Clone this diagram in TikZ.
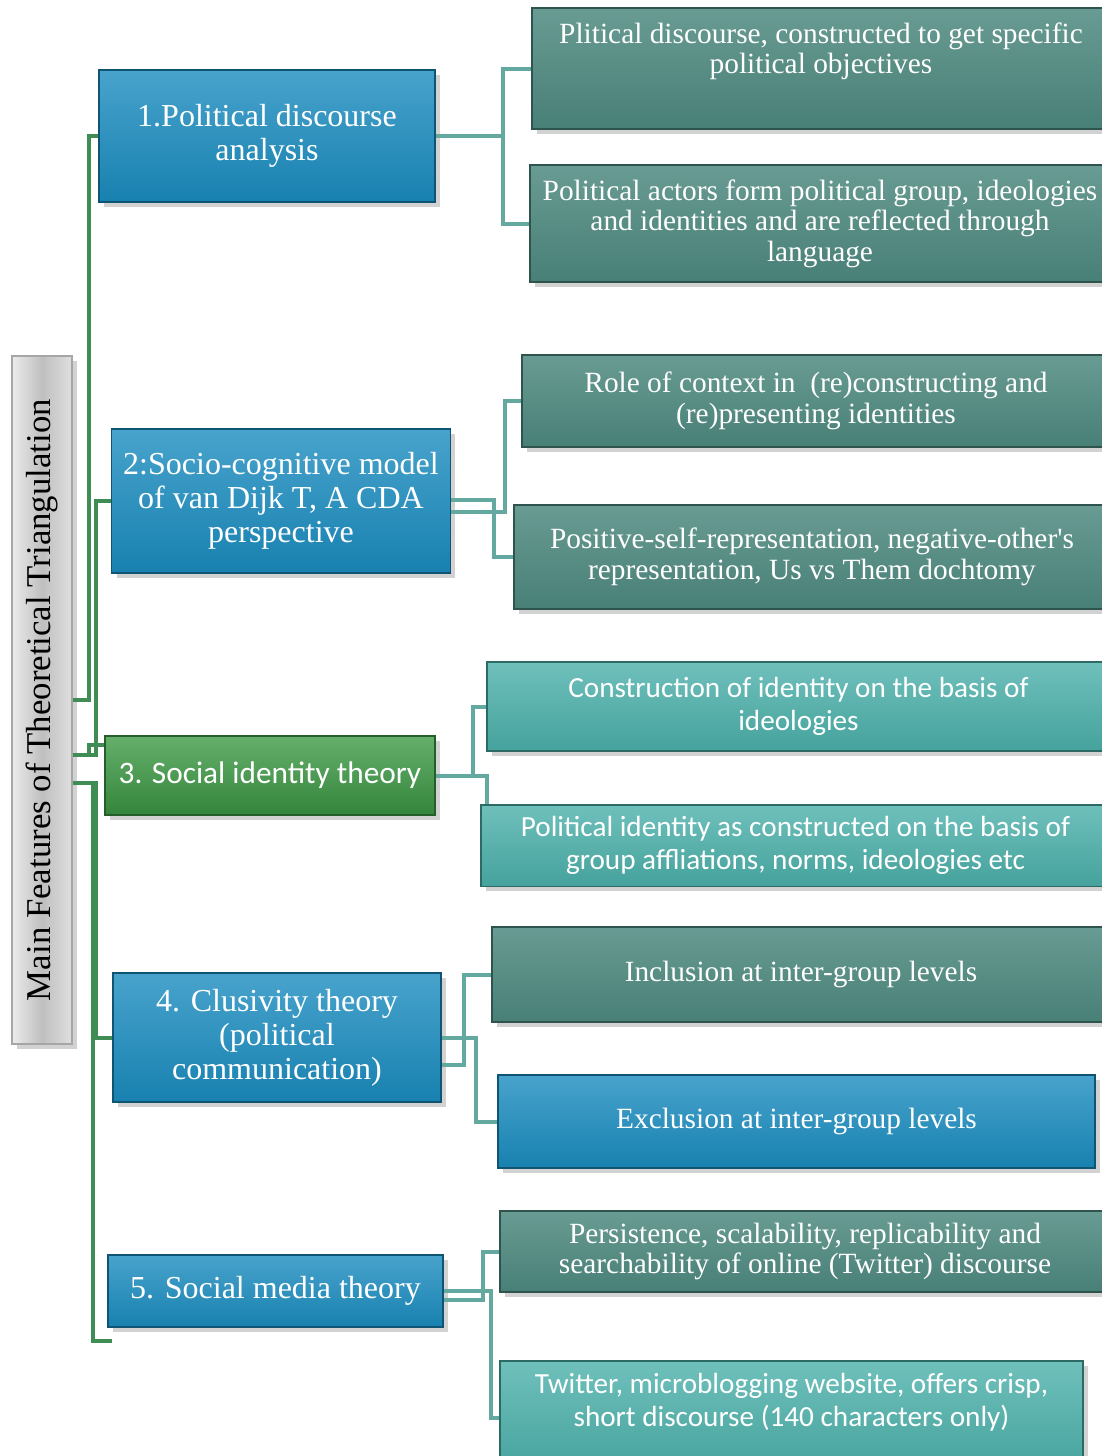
\documentclass[tikz,border=0pt]{standalone}
\usepackage{fontspec}
\setmainfont{Liberation Serif}
\newfontfamily\calibri{Carlito}
\usetikzlibrary{shadows}

\definecolor{boxblue}{HTML}{1A8CBF}
\definecolor{boxgreen}{HTML}{3E9C46}
\definecolor{boxteal}{HTML}{4E8A80}
\definecolor{boxlteal}{HTML}{4BB0AA}
\definecolor{lineteal}{HTML}{63A9A0}
\definecolor{linegreen}{HTML}{3F8D55}

\begin{document}
\begin{tikzpicture}[
        x=0.01cm, y=-0.01cm,
        card/.style={rectangle, text=white, align=center, line width=0.5pt,
            drop shadow={shadow xshift=0.05cm, shadow yshift=-0.05cm, opacity=0.35}},
        blue/.style={card, draw=boxblue!60!black, top color=boxblue!80!white, bottom color=boxblue!92!black},
        green/.style={card, draw=boxgreen!60!black, top color=boxgreen!80!white, bottom color=boxgreen!85!black},
        teal/.style={card, draw=boxteal!60!black, top color=boxteal!85!white, bottom color=boxteal!92!black},
        lightteal/.style={card, draw=boxlteal!60!black, top color=boxlteal!80!white, bottom color=boxlteal!92!black},
        rootbox/.style={card, text=black, draw=gray!70, left color=gray!15, right color=gray!25, middle color=gray!50},
        mainfont/.style={font=\fontsize{9.1}{9.7}\selectfont},
        subfont/.style={font=\fontsize{8.35}{8.65}\selectfont},
        sansfont/.style={font=\calibri\fontsize{8.3}{9.4}\selectfont},
        teal line/.style={draw=lineteal, line width=0.04cm},
        green line/.style={draw=linegreen, line width=0.04cm}
    ]
    \fill[white] (0,0) rectangle (1102,1456);
    \useasboundingbox (0,0) rectangle (1102,1456);

    % root
    \node[rootbox, minimum width=0.6cm, minimum height=6.88cm] (mft) at (42,700) {};
    \node[rotate=90, font=\fontsize{9.9}{11}\selectfont] at (mft.center) {Main Features of Theoretical Triangulation};

    % first level
    \node[blue, mainfont, minimum width=3.36cm, minimum height=1.32cm] (pda) at (267,136) {1.Political discourse\\analysis};
    \node[blue, mainfont, minimum width=3.36cm, minimum height=1.44cm] (scm) at (281,501) {2:Socio-cognitive model\\of van Dijk T, A CDA\\perspective};
    \node[green, font=\calibri\fontsize{8.9}{9.5}\selectfont, minimum width=3.30cm, minimum height=0.79cm] (sit) at (270,775.5) {3. Social identity theory};
    \node[blue, mainfont, minimum width=3.28cm, minimum height=1.29cm] (ct) at (277,1037.5) {4. Clusivity theory\\(political\\communication)};
    \node[blue, mainfont, minimum width=3.35cm, minimum height=0.72cm] (smt) at (275.5,1291) {5. Social media theory};

    % second level
    \node[teal, subfont, minimum width=5.78cm, minimum height=1.21cm] (pdobj) at (821,68.5) {Plitical discourse, constructed to get specific\\political objectives\\[3pt]\mbox{}};
    \node[teal, subfont, minimum width=5.80cm, minimum height=1.17cm] (pactors) at (820,223.5) {Political actors form political group, ideologies\\and identities and are reflected through\\language};
    \node[teal, subfont, minimum width=5.88cm, minimum height=0.92cm] (context) at (816,401) {Role of context in\ \ (re)constructing and\\(re)presenting identities};
    \node[teal, subfont, minimum width=5.96cm, minimum height=1.04cm] (posneg) at (812,557) {Positive-self-representation, negative-other\textquotesingle s\\representation, Us vs Them dochtomy};
    \node[lightteal, sansfont, minimum width=6.23cm, minimum height=0.89cm] (constr) at (798.5,706.5) {Construction of identity on the basis of\\ideologies};
    \node[lightteal, sansfont, minimum width=6.29cm, minimum height=0.81cm] (polid) at (795.5,845.5) {Political identity as constructed on the basis of\\group affliations, norms, ideologies etc};
    \node[teal, subfont, minimum width=6.18cm, minimum height=0.95cm] (incl) at (801,974.5) {Inclusion at inter-group levels};
    \node[blue, subfont, minimum width=5.97cm, minimum height=0.93cm] (excl) at (796.5,1121.5) {Exclusion at inter-group levels};
    \node[teal, subfont, minimum width=6.10cm, minimum height=0.79cm] (persist) at (805,1251.5) {Persistence, scalability, replicability and\\searchability of online (Twitter) discourse};
    \node[lightteal, sansfont, minimum width=5.83cm, minimum height=0.92cm] (twitter) at (791.5,1418) {Twitter, microblogging website, offers crisp,\\short discourse (140 characters only)\\[1pt]\mbox{}};

    % root to first level
    \draw[green line] (mft.east) -- ++(16,0) |- (pda.west);
    \draw[green line] ([yshift=-0.55cm]mft.east) -- ++(23,0) |- (scm.west);
    \draw[green line] ([yshift=-0.55cm]mft.east) -- ++(16,0) |- ([yshift=0.31cm]sit.west);
    \draw[green line] ([yshift=-0.83cm]mft.east) -- ++(23,0) |- (ct.west);
    \draw[green line] ([yshift=-0.83cm]mft.east) -- ++(20,0) |- ([xshift=0.05cm, yshift=-0.13cm]smt.south west);

    % first level to second level
    \draw[teal line] (pda.east) -- ++(67,0) |- (pdobj.west);
    \draw[teal line] (pda.east) -- ++(67,0) |- (pactors.west);
    \draw[teal line] ([yshift=0.01cm]scm.east) -- ++(43,0) |- (posneg.west);
    \draw[teal line] ([yshift=-0.11cm]scm.east) -- ++(54,0) |- (context.west);
    \draw[teal line] (sit.east) -- ++(37,0) |- (constr.west);
    \draw[teal line] (sit.east) -| ([xshift=0.07cm]polid.north west);
    \draw[teal line] ([yshift=-0.005cm]ct.east) -- ++(34,0) |- (excl.west);
    \draw[teal line] ([yshift=-0.27cm]ct.east) -- ++(22,0) |- (incl.west);
    \draw[teal line] (smt.east) -- ++(47,0) |- (twitter.west);
    \draw[teal line] ([yshift=-0.09cm]smt.east) -- ++(39,0) |- (persist.west);

\end{tikzpicture}
\end{document}
